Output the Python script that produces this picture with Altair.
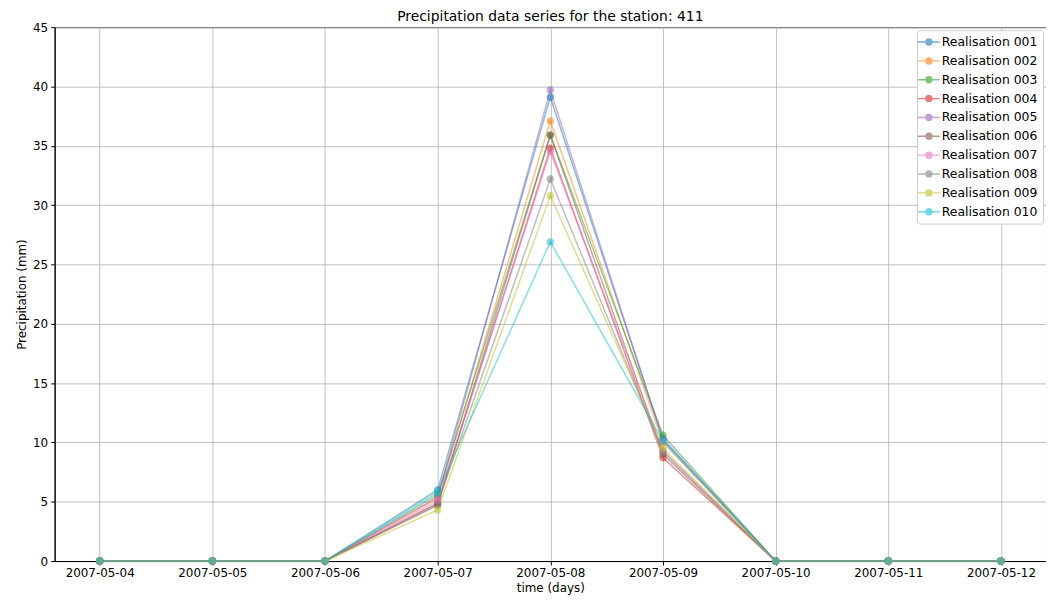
import altair as alt
import pandas as pd

dates = ["2007-05-04", "2007-05-05", "2007-05-06", "2007-05-07", "2007-05-08",
         "2007-05-09", "2007-05-10", "2007-05-11", "2007-05-12"]
series_names = ["Realisation 001", "Realisation 002", "Realisation 003", "Realisation 004",
                "Realisation 005", "Realisation 006", "Realisation 007", "Realisation 008",
                "Realisation 009", "Realisation 010"]
colors = ["#1f77b4", "#ff7f0e", "#2ca02c", "#d62728", "#9467bd",
          "#8c564b", "#e377c2", "#7f7f7f", "#bcbd22", "#17becf"]

r001 = [0, 0, 0, 6.0, 39.1, 10.3, 0, 0, 0]
r002 = [0, 0, 0, 5.3, 37.1, 10.0, 0, 0, 0]
r003 = [0, 0, 0, 5.6, 35.9, 10.6, 0, 0, 0]
r004 = [0, 0, 0, 4.9, 34.8, 8.7, 0, 0, 0]
r005 = [0, 0, 0, 5.4, 39.7, 10.2, 0, 0, 0]
r006 = [0, 0, 0, 4.7, 35.9, 9.0, 0, 0, 0]
r007 = [0, 0, 0, 5.1, 34.5, 9.3, 0, 0, 0]
r008 = [0, 0, 0, 4.8, 32.2, 9.2, 0, 0, 0]
r009 = [0, 0, 0, 4.3, 30.8, 9.5, 0, 0, 0]
r010 = [0, 0, 0, 5.8, 26.9, 10.1, 0, 0, 0]
all_series = [r001, r002, r003, r004, r005, r006, r007, r008, r009, r010]

rows = []
for name, vals in zip(series_names, all_series):
    for d, v in zip(dates, vals):
        rows.append({"time": d, "value": v, "series": name})
df = pd.DataFrame(rows)

FONT = "DejaVu Sans"

def dt(y, m, d, h=0, mi=0):
    return alt.DateTime(year=y, month=m, date=d, hours=h, minutes=mi, utc=True)

tick_values = [dt(2007, 5, d) for d in range(4, 13)]

x_enc = alt.X("time:T",
              scale=alt.Scale(type="utc", domain=[dt(2007, 5, 3, 14, 24), dt(2007, 5, 12, 9, 36)]),
              axis=alt.Axis(values=tick_values, format="%Y-%m-%d", title="time (days)",
                            labelAngle=0, grid=True))
y_enc = alt.Y("value:Q", scale=alt.Scale(domain=[0, 45]),
              axis=alt.Axis(values=list(range(0, 46, 5)), title="Precipitation (mm)", grid=True))
symbol_path = ("M-1.8,0H-0.5 M0.5,0H1.8 "
               "M0.5,0A0.5,0.5 0 1,1 -0.5,0A0.5,0.5 0 1,1 0.5,0Z")
legend = alt.Legend(title=None, orient="top-right",
                    symbolType=symbol_path, symbolSize=150, symbolStrokeWidth=1.4,
                    symbolOpacity=0.6, labelFontSize=12.5,
                    labelFont=FONT, strokeColor="#cccccc",
                    fillColor="white", padding=5, cornerRadius=3,
                    rowPadding=5, offset=3, labelOffset=6)
color_scale = alt.Scale(domain=series_names, range=colors)

lines = alt.Chart(df).mark_line(strokeWidth=1.5, opacity=0.5).encode(
    x=x_enc, y=y_enc, color=alt.Color("series:N", scale=color_scale, legend=legend))
points = alt.Chart(df).mark_circle(size=55, opacity=0.55).encode(
    x=x_enc, y=y_enc, color=alt.Color("series:N", scale=color_scale, legend=legend))

chart = alt.layer(lines, points).properties(
    width=1046, height=597, padding={"left": 7, "right": 0, "top": 0, "bottom": 9},
    autosize=alt.AutoSizeParams(type="fit", contains="padding"),
    title=alt.Title("Precipitation data series for the station: 411", fontSize=14,
                    font=FONT, fontWeight="normal", offset=-3)
).configure_view(stroke="black", strokeWidth=1).configure_axis(
    labelFont=FONT, titleFont=FONT, labelFontSize=12, titleFontSize=12,
    titleFontWeight="normal", gridColor="#b0b0b0", gridWidth=0.8,
    domainColor="black", tickColor="black", labelColor="black", titleColor="black",
    tickSize=4, labelPadding=3
)

chart.save("out.html", embed_options={"renderer": "svg", "actions": False})
